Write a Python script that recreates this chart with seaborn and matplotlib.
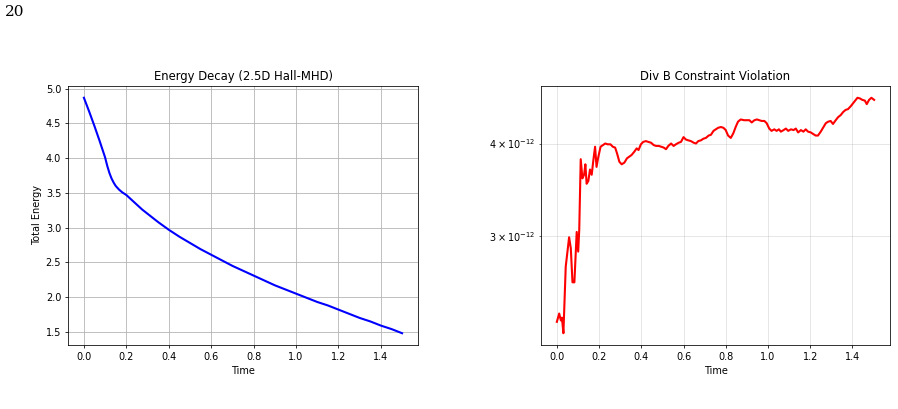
import numpy as np
import pandas as pd
import matplotlib
matplotlib.use("Agg")
import matplotlib.pyplot as plt
import seaborn as sns

# ---------------------------
# DATA
# ---------------------------

# Energy decay curve
energy_time = [0.0, 0.025, 0.05, 0.075, 0.10, 0.11, 0.12, 0.13, 0.14, 0.15,
               0.165, 0.18, 0.20, 0.225, 0.25, 0.275, 0.30, 0.35, 0.40, 0.45,
               0.50, 0.55, 0.60, 0.65, 0.70, 0.75, 0.80, 0.85, 0.90, 0.95,
               1.00, 1.05, 1.10, 1.15, 1.20, 1.25, 1.30, 1.35, 1.40, 1.45,
               1.50]
total_energy = [4.87, 4.67, 4.46, 4.24, 4.01, 3.89, 3.79, 3.71, 3.65, 3.60,
                3.55, 3.51, 3.47, 3.40, 3.33, 3.26, 3.20, 3.08, 2.97, 2.87,
                2.78, 2.69, 2.61, 2.53, 2.45, 2.38, 2.31, 2.24, 2.17, 2.11,
                2.05, 1.99, 1.93, 1.88, 1.82, 1.76, 1.70, 1.65, 1.59, 1.54,
                1.48]

# Div B violation (units of 1e-12)
divb_time = [0.000, 0.011, 0.019, 0.024, 0.031, 0.042, 0.058, 0.066, 0.074, 0.083,
             0.094, 0.101, 0.106, 0.113, 0.121, 0.129, 0.135, 0.141, 0.149, 0.157,
             0.165, 0.173, 0.181, 0.188, 0.195,
             0.207, 0.218, 0.229, 0.241, 0.254, 0.265, 0.276, 0.285, 0.296, 0.307,
             0.320, 0.332, 0.343, 0.354, 0.367, 0.378, 0.387, 0.398, 0.409, 0.422,
             0.433, 0.446, 0.459, 0.470, 0.483, 0.494, 0.506, 0.517, 0.528, 0.541,
             0.553, 0.564, 0.577, 0.588, 0.600, 0.611, 0.622, 0.635, 0.648, 0.659,
             0.670, 0.683, 0.694, 0.706, 0.719, 0.730, 0.742, 0.753, 0.764, 0.777,
             0.789, 0.800, 0.811, 0.824, 0.836, 0.847, 0.858, 0.871, 0.887, 0.899,
             0.912, 0.923, 0.936, 0.948, 0.959, 0.970, 0.983, 0.994, 1.006, 1.017,
             1.030, 1.041, 1.052, 1.061, 1.074, 1.085, 1.096, 1.109, 1.121, 1.132,
             1.143, 1.156, 1.168, 1.179, 1.190, 1.203, 1.214, 1.226, 1.237, 1.250,
             1.261, 1.274, 1.285, 1.297, 1.308, 1.321, 1.332, 1.345, 1.356, 1.368,
             1.379, 1.392, 1.403, 1.416, 1.424, 1.436, 1.447, 1.459, 1.468, 1.479,
             1.490, 1.503]
divb_e12 = [2.30, 2.36, 2.31, 2.33, 2.22, 2.73, 2.99, 2.89, 2.60, 2.60,
            3.04, 2.86, 3.06, 3.81, 3.59, 3.63, 3.75, 3.53, 3.56, 3.69,
            3.63, 3.80, 3.96, 3.72, 3.82,
            3.96, 3.98, 4.00, 3.99, 3.99, 3.96, 3.95, 3.88, 3.78, 3.75,
            3.77, 3.82, 3.84, 3.86, 3.90, 3.94, 3.92, 3.99, 4.02, 4.03,
            4.02, 4.01, 3.98, 3.97, 3.97, 3.96, 3.95, 3.93, 3.97, 4.00,
            3.97, 3.99, 4.01, 4.02, 4.08, 4.05, 4.04, 4.03, 4.01, 4.00,
            4.03, 4.04, 4.06, 4.07, 4.10, 4.11, 4.16, 4.18, 4.20, 4.21,
            4.20, 4.17, 4.10, 4.07, 4.13, 4.21, 4.28, 4.31, 4.30, 4.30,
            4.30, 4.27, 4.30, 4.31, 4.30, 4.29, 4.29, 4.26, 4.19, 4.16,
            4.18, 4.16, 4.18, 4.15, 4.17, 4.19, 4.16, 4.18, 4.17, 4.19,
            4.14, 4.17, 4.15, 4.18, 4.15, 4.14, 4.12, 4.10, 4.10, 4.15,
            4.20, 4.26, 4.28, 4.29, 4.25, 4.30, 4.34, 4.37, 4.41, 4.44,
            4.45, 4.49, 4.53, 4.58, 4.61, 4.60, 4.58, 4.57, 4.52, 4.58,
            4.61, 4.58]

df_energy = pd.DataFrame({'Time': energy_time, 'TotalEnergy': total_energy})
df_divb = pd.DataFrame({'Time': divb_time, 'DivB': np.array(divb_e12) * 1e-12})

# ---------------------------
# STYLE: matplotlib defaults shrunk to ~0.7 (figure was scaled down on the page)
# ---------------------------
s = 0.7
plt.rcParams.update({
    'axes.linewidth': 0.8 * s,
    'axes.labelpad': 4.0 * s,
    'axes.titlepad': 6.0 * s,
    'grid.linewidth': 0.8 * s,
    'xtick.major.size': 3.5 * s, 'ytick.major.size': 3.5 * s,
    'xtick.minor.size': 2.0 * s, 'ytick.minor.size': 2.0 * s,
    'xtick.major.width': 0.8 * s, 'ytick.major.width': 0.8 * s,
    'xtick.minor.width': 0.6 * s, 'ytick.minor.width': 0.6 * s,
    'xtick.major.pad': 3.5 * s, 'ytick.major.pad': 3.5 * s,
    'xtick.minor.pad': 3.4 * s, 'ytick.minor.pad': 3.4 * s,
})

# ---------------------------
# PLOT
# ---------------------------
fig = plt.figure(figsize=(8.98, 4.09), dpi=100)
W, H = 898, 409
ax1 = fig.add_axes([68 / W, 1 - 345 / H, 350 / W, 259 / H])
ax2 = fig.add_axes([541 / W, 1 - 345 / H, 349 / W, 259 / H])
xt = [0.0, 0.2, 0.4, 0.6, 0.8, 1.0, 1.2, 1.4]

# Energy decay
sns.lineplot(data=df_energy, x='Time', y='TotalEnergy', color='blue', linewidth=1.5, ax=ax1)
ax1.set_title("Energy Decay (2.5D Hall-MHD)", fontsize=8.4)
ax1.set_xlabel("Time", fontsize=7)
ax1.set_ylabel("Total Energy", fontsize=7)
ax1.tick_params(labelsize=7)
ax1.set_xticks(xt)
ax1.grid(True)

# Div B violation
sns.lineplot(data=df_divb, x='Time', y='DivB', color='red', linewidth=1.5, ax=ax2)
ax2.set_yscale('log')
ax2.set_title("Div B Constraint Violation", fontsize=8.4)
ax2.set_xlabel("Time", fontsize=7)
ax2.set_ylabel("")
ax2.tick_params(labelsize=7, which='both')
ax2.set_xticks(xt)
ax2.grid(True, which='both', alpha=0.4)

# page number from the surrounding document
fig.text(0.006, 0.96, "20", family='DejaVu Serif', fontsize=11)

fig.savefig("out.png", dpi=100)
